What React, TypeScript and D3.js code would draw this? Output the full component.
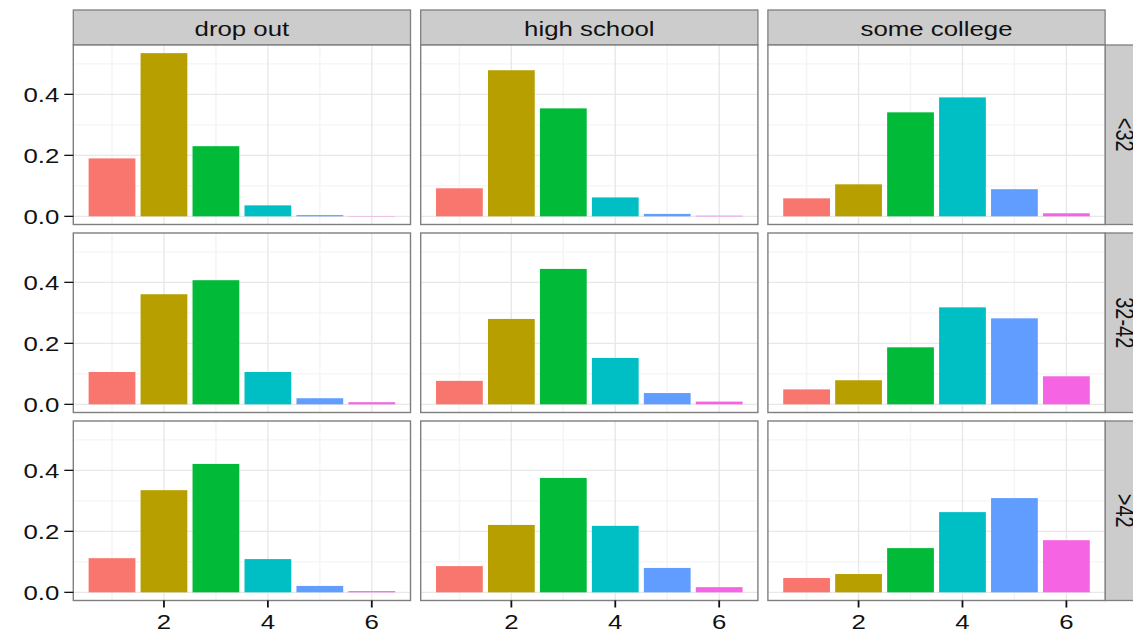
import React from 'react';
import * as d3 from 'd3';

const educLevels = ['drop out', 'high school', 'some college'];
const ageGroups = ['<32', '32-42', '>42'];
const kidCounts = [1, 2, 3, 4, 5, 6];
const xTicks = [2, 4, 6];
const xMinor = [1, 3, 5];
const yTicks = [0, 0.2, 0.4];
const yMinor = [0.1, 0.3, 0.5];

// share of families by number of kids, one row per education level
const sharesUnder32 = [
	[0.190, 0.535, 0.230, 0.036, 0.004, 0.001],
	[0.092, 0.479, 0.354, 0.062, 0.008, 0.002],
	[0.059, 0.105, 0.341, 0.390, 0.089, 0.010],
];
const shares32to42 = [
	[0.106, 0.361, 0.407, 0.106, 0.020, 0.007],
	[0.077, 0.280, 0.444, 0.152, 0.037, 0.009],
	[0.049, 0.079, 0.187, 0.318, 0.282, 0.092],
];
const sharesOver42 = [
	[0.112, 0.335, 0.421, 0.109, 0.021, 0.004],
	[0.086, 0.221, 0.375, 0.218, 0.080, 0.017],
	[0.047, 0.060, 0.145, 0.263, 0.309, 0.171],
];
const sharesByAge = [sharesUnder32, shares32to42, sharesOver42];

const hueColors = ['#F8766D', '#B79F00', '#00BA38', '#00BFC4', '#619CFF', '#F564E3'];

const W = 1133;
const H = 635;
const FONT = '"Liberation Sans", Arial, Helvetica, sans-serif';
const STRETCH = 1.29; // the picture is stretched sideways

const colX = [73.3, 420.7, 767.9];
const panelW = 337.2;
const rowY = [45, 233, 421];
const panelH = 179.5;
const stripTop = 10;
const stripW = 35;

export default function App() {
	const maxShare = d3.max(sharesByAge.flat(2)) as number;
	const pad = maxShare * 0.05;
	const xExt = [0.55, 6.45];
	const xPad = (xExt[1] - xExt[0]) * 0.05;

	const x = d3.scaleLinear().domain([xExt[0] - xPad, xExt[1] + xPad]).range([0, panelW]);
	const y = d3.scaleLinear().domain([-pad, maxShare + pad]).range([panelH, 0]);
	const color = d3.scaleOrdinal<number, string>().domain(kidCounts).range(hueColors);

	const label = (txt: string, tx: number, ty: number, anchor: string, rot = 0) => (
		<text
			transform={rot ? `translate(${tx},${ty}) rotate(${rot}) scale(1,${STRETCH})` : `translate(${tx},${ty}) scale(${STRETCH},1)`}
			textAnchor={anchor}
			fontFamily={FONT}
			fontSize={20}
			fill="#111"
		>{txt}</text>
	);

	return (
		<svg width={W} height={H} style={{position: 'absolute', left: 0, top: 0, background: '#fff'}}>
			{/* top strips */}
			{educLevels.map((ed, c) => (
				<g key={'s' + c}>
					<rect x={colX[c]} y={stripTop} width={panelW} height={rowY[0] - stripTop} fill="#CCCCCC" stroke="#7F7F7F" strokeWidth={1.3}/>
					{label(ed, colX[c] + panelW / 2, stripTop + 25.5, 'middle')}
				</g>
			))}
			{/* right strips */}
			{ageGroups.map((ag, r) => (
				<g key={'r' + r}>
					<rect x={colX[2] + panelW} y={rowY[r]} width={stripW} height={panelH} fill="#CCCCCC" stroke="#7F7F7F" strokeWidth={1.3}/>
					{label(ag, colX[2] + panelW + 10.5, rowY[r] + panelH / 2, 'middle', 90)}
				</g>
			))}
			{ageGroups.map((ag, r) => educLevels.map((ed, c) => {
				const vals = sharesByAge[r][c];
				return (
					<g key={ag + ed} transform={`translate(${colX[c]},${rowY[r]})`}>
						<rect x={0} y={0} width={panelW} height={panelH} fill="#fff"/>
						{/* grid */}
						{yMinor.map(v => (
							<line key={'ym' + v} x1={0} x2={panelW} y1={y(v)} y2={y(v)} stroke="#F5F5F5" strokeWidth={1.2}/>
						))}
						{xMinor.map(v => (
							<line key={'xm' + v} x1={x(v)} x2={x(v)} y1={0} y2={panelH} stroke="#F5F5F5" strokeWidth={1.6}/>
						))}
						{yTicks.map(v => (
							<line key={'yg' + v} x1={0} x2={panelW} y1={y(v)} y2={y(v)} stroke="#E8E8E8" strokeWidth={1.1}/>
						))}
						{xTicks.map(v => (
							<line key={'xg' + v} x1={x(v)} x2={x(v)} y1={0} y2={panelH} stroke="#E8E8E8" strokeWidth={1.4}/>
						))}
						{/* bars */}
						{vals.map((v, i) => (
							<rect
								key={i}
								x={x(kidCounts[i] - 0.45)}
								width={x(kidCounts[i] + 0.45) - x(kidCounts[i] - 0.45)}
								y={y(v)}
								height={y(0) - y(v)}
								fill={color(kidCounts[i])}
							/>
						))}
						<rect x={0} y={0} width={panelW} height={panelH} fill="none" stroke="#7F7F7F" strokeWidth={1.4}/>
						{/* y axis on the first column */}
						{c === 0 && yTicks.map(v => (
							<g key={'yt' + v}>
								<line x1={-9} x2={0} y1={y(v)} y2={y(v)} stroke="#111" strokeWidth={1.3}/>
								{label(d3.format('.1f')(v), -14, y(v) + 7.5, 'end')}
							</g>
						))}
						{/* x axis on the last row */}
						{r === ageGroups.length - 1 && xTicks.map(v => (
							<g key={'xt' + v}>
								<line x1={x(v)} x2={x(v)} y1={panelH} y2={panelH + 7} stroke="#111" strokeWidth={1.8}/>
								{label(String(v), x(v), panelH + 28, 'middle')}
							</g>
						))}
					</g>
				);
			}))}
		</svg>
	);
}
